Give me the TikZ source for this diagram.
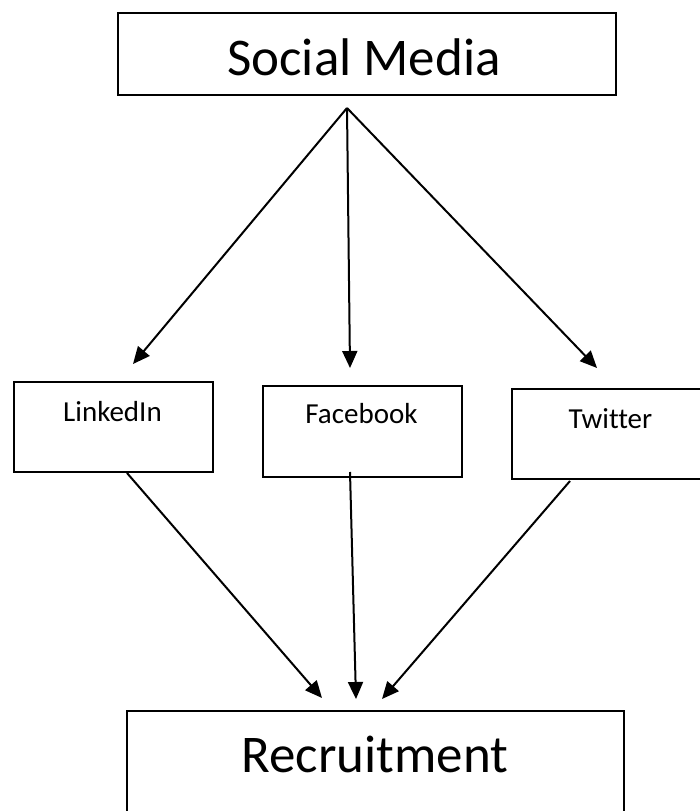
\documentclass[tikz,border=0pt]{standalone}
\usepackage{fontspec}
\setmainfont{Carlito}[Ligatures=NoCommon]
\usetikzlibrary{arrows.meta}
\begin{document}
\begin{tikzpicture}[x=1pt,y=-1pt,
  box/.style={draw=black, line width=2.4pt, anchor=north west, inner sep=0pt},
  big/.style={font=\fontsize{53}{53}\selectfont, anchor=base, inner sep=0pt},
  small/.style={font=\fontsize{29}{29}\selectfont, anchor=base, inner sep=0pt},
  arr/.style={line width=2pt, -{Triangle[length=17pt,width=15pt]}}]
\useasboundingbox (0,0) rectangle (700,811);
\clip (0,0) rectangle (700,811);
% boxes
\node[box, minimum width=498pt, minimum height=82pt] (sm) at (117,12) {};
\node[box, minimum width=199pt, minimum height=90pt] (li) at (13,381) {};
\node[box, minimum width=199pt, minimum height=91pt] (fb) at (262,385) {};
\node[box, minimum width=199pt, minimum height=90pt] (tw) at (511,388) {};
\node[box, minimum width=497pt, minimum height=130pt] (rec) at (126,710) {};
% texts
\node[big] (smt) at (364,75) {Social Media};
\node[big] (rect) at (375,772) {Recruitment};
\node[small] (lit) at (112.5,421) {LinkedIn};
\node[small] (fbt) at (361.5,423) {Facebook};
\node[small] (twt) at (610.5,428) {Twitter};
% connector end points
\coordinate (apex) at (347,108);
\coordinate (liin) at (133,364);
\coordinate (fbin) at (350,368);
\coordinate (twin) at (597,368);
\coordinate (liout) at (127,473);
\coordinate (fbout) at (350,472);
\coordinate (twout) at (570,481);
\coordinate (rec1) at (322,698);
\coordinate (rec2) at (356,699);
\coordinate (rec3) at (382,699);
% connectors
\draw[arr] (apex) -- (liin);
\draw[arr] (apex) -- (fbin);
\draw[arr] (apex) -- (twin);
\draw[arr] (liout) -- (rec1);
\draw[arr] (fbout) -- (rec2);
\draw[arr] (twout) -- (rec3);
\end{tikzpicture}
\end{document}
